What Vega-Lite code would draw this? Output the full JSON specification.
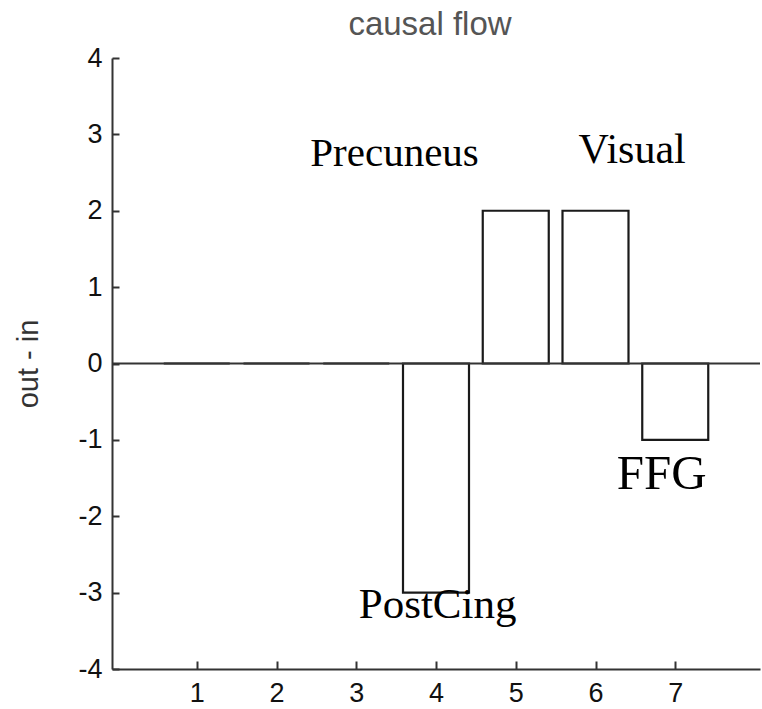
{
  "$schema": "https://vega.github.io/schema/vega-lite/v6.json",
  "width": 648,
  "height": 611,
  "autosize": "none",
  "padding": {"left": 112, "top": 58, "right": 2, "bottom": 40},
  "background": "white",
  "config": {
    "view": {"stroke": null},
    "font": "Liberation Sans",
    "axis": {"grid": false, "domainColor": "#333", "domainWidth": 2, "tickColor": "#333", "tickWidth": 2, "labelColor": "#111", "labelFont": "Liberation Sans", "titleFont": "Liberation Sans", "titleFontWeight": "normal", "titleColor": "#333"}
  },
  "title": {"text": "causal flow", "fontSize": 33, "fontWeight": "normal", "color": "#555", "font": "Liberation Sans", "offset": 2, "dx": -6},
  "datasets": {
    "bars": [
      {"node": 1, "value": 0},
      {"node": 2, "value": 0},
      {"node": 3, "value": 0},
      {"node": 4, "value": -3},
      {"node": 5, "value": 2},
      {"node": 6, "value": 2},
      {"node": 7, "value": -1}
    ],
    "labels": [
      {"label": "Precuneus", "lx": 3.48, "ly": 2.59, "fs": 41},
      {"label": "Visual", "lx": 6.46, "ly": 2.63, "fs": 42},
      {"label": "FFG", "lx": 6.83, "ly": -1.64, "fs": 49},
      {"label": "PostCing", "lx": 4.02, "ly": -3.33, "fs": 43}
    ]
  },
  "layer": [
    {
      "data": {"name": "bars"},
      "mark": {"type": "bar", "fill": "white", "stroke": "#1a1a1a", "strokeWidth": 2.2, "size": 66, "orient": "vertical"},
      "encoding": {
        "x": {"field": "node", "type": "quantitative", "scale": {"domain": [0, 8], "nice": false, "zero": false},
              "axis": {"values": [1, 2, 3, 4, 5, 6, 7], "format": "d", "title": null, "tickSize": -8, "labelPadding": 19, "labelFontSize": 27, "orient": "bottom"}},
        "y": {"field": "value", "type": "quantitative", "scale": {"domain": [-4, 4], "nice": false},
              "axis": {"values": [-4, -3, -2, -1, 0, 1, 2, 3, 4], "labelExpr": "'' + datum.value", "labelFontSize": 27, "title": "out - in", "titleFontSize": 29, "tickSize": -7, "labelPadding": 17, "titlePadding": 34}}
      }
    },
    {
      "data": {"values": [{}]},
      "mark": {"type": "rule", "color": "#333", "strokeWidth": 2},
      "encoding": {"y": {"datum": 0, "type": "quantitative"}}
    },
    {
      "data": {"name": "labels"},
      "mark": {"type": "text", "font": "Liberation Serif", "align": "center", "baseline": "alphabetic", "color": "black"},
      "encoding": {
        "x": {"field": "lx", "type": "quantitative"},
        "y": {"field": "ly", "type": "quantitative"},
        "text": {"field": "label"},
        "size": {"field": "fs", "type": "quantitative", "scale": null, "legend": null}
      }
    }
  ]
}
